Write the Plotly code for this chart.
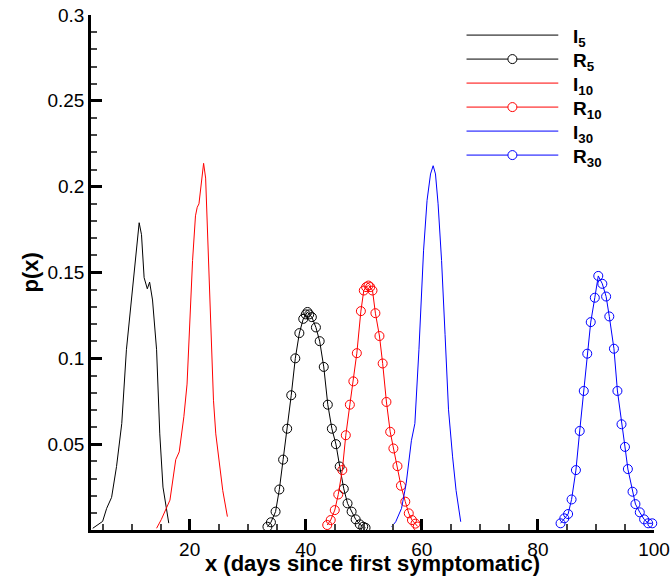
import plotly.graph_objects as go

# ---------------- data ----------------
i5_x = [3.3, 5.0, 5.7, 6.55, 7.4, 8.3, 9.1, 9.8, 10.55, 11.3, 11.7, 12.15, 12.7, 13.1, 13.6, 14.3, 14.85, 15.4, 16.4]
i5_y = [0.001, 0.005, 0.0126, 0.019, 0.037, 0.062, 0.105, 0.13, 0.153, 0.179, 0.172, 0.147, 0.1405, 0.1444, 0.134, 0.105, 0.056, 0.025, 0.004]

r5_x = [33.4, 34.0, 34.8, 35.45, 36.1, 36.8, 37.5, 38.2, 38.9, 39.57, 40.0, 40.3, 40.6, 41.05, 41.75, 42.4, 43.1, 43.8, 44.5, 45.2, 45.85, 46.55, 47.2, 47.9, 48.6, 49.3, 49.9, 50.3]
r5_y = [0.0019, 0.0045, 0.0107, 0.0236, 0.041, 0.059, 0.0785, 0.1, 0.1147, 0.123, 0.1256, 0.127, 0.1256, 0.124, 0.118, 0.110, 0.095, 0.073, 0.059, 0.050, 0.037, 0.024, 0.0155, 0.0107, 0.0062, 0.0033, 0.0019, 0.0013]

i10_x = [14.3, 15.1, 16.6, 17.6, 18.2, 19.0, 19.55, 20.0, 20.5, 21.0, 21.3, 21.6, 22.0, 22.4, 22.75, 22.9, 23.3, 23.7, 24.1, 24.5, 25.15, 25.7, 26.5]
i10_y = [0.001, 0.006, 0.0174, 0.041, 0.0455, 0.066, 0.085, 0.124, 0.157, 0.183, 0.188, 0.19, 0.202, 0.2136, 0.205, 0.19, 0.153, 0.114, 0.0756, 0.056, 0.037, 0.023, 0.0078]

r10_x = [43.7, 44.3, 45.0, 45.6, 46.3, 46.9, 47.6, 48.2, 48.8, 49.5, 50.0, 50.4, 50.8, 51.1, 51.5, 52.0, 52.7, 53.25, 53.9, 54.55, 55.1, 55.8, 56.4, 57.15, 57.75, 58.3, 58.9, 59.3]
r10_y = [0.0029, 0.0058, 0.0116, 0.0207, 0.0349, 0.0552, 0.073, 0.0866, 0.103, 0.1275, 0.1395, 0.1415, 0.1424, 0.1415, 0.1395, 0.1263, 0.113, 0.097, 0.0746, 0.0572, 0.0475, 0.0372, 0.0258, 0.0165, 0.0097, 0.0058, 0.0037, 0.002]

i30_x = [54.8, 55.5, 56.5, 57.3, 58.2, 58.8, 59.5, 59.9, 60.3, 60.9, 61.5, 61.95, 62.35, 62.8, 63.4, 64.0, 64.6, 65.3, 65.9, 66.7]
i30_y = [0.0019, 0.0048, 0.0126, 0.027, 0.052, 0.062, 0.105, 0.134, 0.163, 0.192, 0.2074, 0.2122, 0.2074, 0.19, 0.157, 0.114, 0.070, 0.0426, 0.023, 0.0048]

r30_x = [83.9, 84.55, 85.2, 85.8, 86.55, 87.2, 87.9, 88.5, 89.1, 89.8, 90.4, 91.1, 91.75, 92.3, 93.1, 93.7, 94.4, 95.0, 95.5, 96.3, 96.8, 97.55, 98.3, 99.0, 99.7]
r30_y = [0.0039, 0.0068, 0.0093, 0.0178, 0.0349, 0.0577, 0.081, 0.1027, 0.1211, 0.1353, 0.148, 0.1434, 0.136, 0.1244, 0.1056, 0.081, 0.0616, 0.0484, 0.0355, 0.0223, 0.0151, 0.0103, 0.0062, 0.0039, 0.0039]

x_ticks = [20, 40, 60, 80, 100]
y_ticks = [0.05, 0.1, 0.15, 0.2, 0.25, 0.3]
y_tick_text = ["0.05", "0.1", "0.15", "0.2", "0.25", "0.3"]

series_names = ["I<sub>5</sub>", "R<sub>5</sub>", "I<sub>10</sub>", "R<sub>10</sub>", "I<sub>30</sub>", "R<sub>30</sub>"]
series_colors = ["#000000", "#000000", "#ff0000", "#ff0000", "#0000ff", "#0000ff"]
series_markers = [False, True, False, True, False, True]

# ---------------- figure ----------------
FONT = "Liberation Sans, Arial, Helvetica, sans-serif"
W, H = 670, 581
ML, MR, MT, MB = 91, 16, 15, 51
PW, PH = W - ML - MR, H - MT - MB
X_RANGE = [3, 100]
Y_RANGE = [0, 0.3]

fig = go.Figure()

data = [(i5_x, i5_y), (r5_x, r5_y), (i10_x, i10_y), (r10_x, r10_y), (i30_x, i30_y), (r30_x, r30_y)]
for (xs, ys), col, mk in zip(data, series_colors, series_markers):
    fig.add_trace(go.Scatter(
        x=xs, y=ys, mode="lines+markers" if mk else "lines",
        line=dict(color=col, width=1),
        marker=dict(symbol="circle-open", size=9, color=col, line=dict(width=1, color=col)),
        showlegend=False, cliponaxis=False,
    ))

# custom legend built from shapes + annotations (paper coords)
leg_x0, leg_x1 = 0.667, 0.830
leg_top = 0.961
leg_step = 0.0466
rx, ry = 4.5 / PW, 4.5 / PH
for k, (name, col, mk) in enumerate(zip(series_names, series_colors, series_markers)):
    yy = leg_top - k * leg_step
    fig.add_shape(type="line", xref="paper", yref="paper", x0=leg_x0, x1=leg_x1, y0=yy, y1=yy,
                  line=dict(color=col, width=1))
    if mk:
        xm = (leg_x0 + leg_x1) / 2
        fig.add_shape(type="circle", xref="paper", yref="paper",
                      x0=xm - rx, x1=xm + rx, y0=yy - ry, y1=yy + ry,
                      line=dict(color=col, width=1), fillcolor="white")
    fig.add_annotation(
        x=0.853, y=yy, xref="paper", yref="paper", xanchor="left", yanchor="middle",
        text="<b>" + name + "</b>", showarrow=False,
        font=dict(family=FONT, size=19, color="black"), yshift=-3,
    )

# axis titles
fig.add_annotation(x=0.5, y=0, xref="paper", yref="paper", xanchor="center", yanchor="middle",
                   yshift=-33, showarrow=False, text="<b>x (days since first symptomatic)</b>",
                   font=dict(family=FONT, size=22, color="black"))
fig.add_annotation(x=0, y=0.5, xref="paper", yref="paper", xanchor="center", yanchor="middle",
                   xshift=-61, textangle=-90, showarrow=False, text="<b>p(x)</b>",
                   font=dict(family=FONT, size=22, color="black"))

# native inward ticks (major + minor)
common = dict(showgrid=False, zeroline=False, automargin=False,
              ticklabeloverflow="allow", showline=True, linewidth=2.5, linecolor="black", mirror=False,
              ticks="inside", ticklen=11, tickwidth=2.5, tickcolor="black")

fig.update_layout(
    width=W, height=H,
    margin=dict(l=ML, r=MR, t=MT, b=MB, autoexpand=False),
    paper_bgcolor="white", plot_bgcolor="white",
    font=dict(family=FONT, color="black"),
    showlegend=False,
    xaxis=dict(
        range=X_RANGE, tickmode="array", tickvals=x_ticks, ticktext=[str(v) for v in x_ticks],
        minor=dict(ticks="inside", ticklen=6, tickwidth=1.5, tickcolor="#444", dtick=5, tick0=0),
        tickfont=dict(family=FONT, size=19, color="black"), **common,
    ),
    yaxis=dict(
        range=Y_RANGE, tickmode="array", tickvals=y_ticks, ticktext=y_tick_text,
        minor=dict(ticks="inside", ticklen=6, tickwidth=1.5, tickcolor="#444", dtick=0.01, tick0=0),
        tickfont=dict(family=FONT, size=19, color="black"), **common,
    ),
)

fig.write_html("out.html", config={"displayModeBar": False},
               post_script="document.body.style.margin='0';document.body.style.overflow='hidden';")
